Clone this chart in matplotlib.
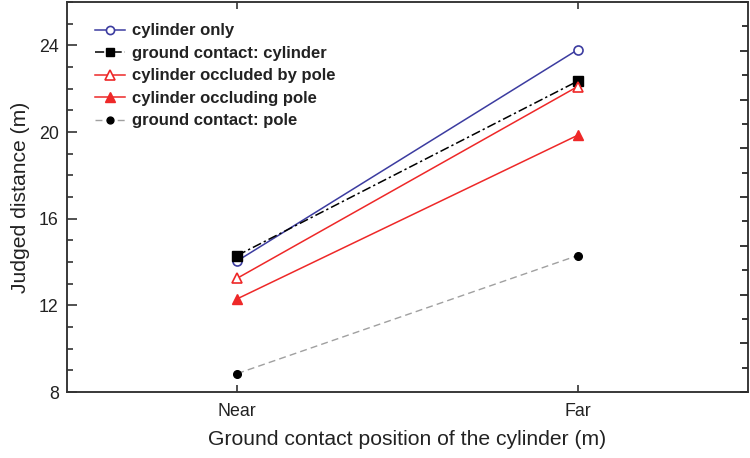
import numpy as np
import matplotlib
matplotlib.use("Agg")
from matplotlib import pyplot as plt
from matplotlib.ticker import MultipleLocator

plt.rcParams['font.family'] = ['Liberation Sans', 'DejaVu Sans']

# data
positions = ["Near", "Far"]
cylinder_only = [14.05, 23.8]
contact_cylinder = [14.3, 22.35]
occluded_by_pole = [13.25, 22.1]
occluding_pole = [12.3, 19.85]
contact_pole = [8.85, 14.3]

x = np.arange(len(positions))

fig = plt.figure(figsize=(7.5, 4.58), dpi=100)
ax = fig.add_axes([0.0893, 0.1441, 0.908, 0.8515])

ax.plot(x, cylinder_only, color="#3c3ca0", lw=1.1, marker="o", ms=6.5,
        mfc="white", mec="#3c3ca0", mew=1.2, label="cylinder only")
ax.plot(x, contact_cylinder, color="black", lw=1.1, ls=(0, (6, 2, 1.5, 2)),
        marker="s", ms=6.5, mfc="black", mec="black", label="ground contact: cylinder")
ax.plot(x, occluded_by_pole, color="#ee2828", lw=1.1, marker="^", ms=7.5,
        mfc="white", mec="#ee2828", mew=1.2, label="cylinder occluded by pole")
ax.plot(x, occluding_pole, color="#ee2828", lw=1.1, marker="^", ms=7.5,
        mfc="#ee2828", mec="#ee2828", label="cylinder occluding pole")
ax.plot(x, contact_pole, color="#a0a0a0", lw=1.0, ls=(0, (5, 3)),
        marker="o", ms=5.5, mfc="black", mec="black", label="ground contact: pole")

ax.set_xlim(-0.5, 1.5)
ax.set_ylim(8, 26)
ax.set_xticks(x)
ax.set_xticklabels(positions)
ax.yaxis.set_major_locator(MultipleLocator(4))
ax.yaxis.set_minor_locator(MultipleLocator(1))
ax.tick_params(axis="both", which="both", direction="in", labelsize=12.8,
               colors="#222222", width=1.1)
ax.tick_params(axis="y", which="major", length=7)
ax.tick_params(axis="y", which="minor", length=4.5)
ax.tick_params(axis="x", which="major", length=5, top=True, pad=8)
ax.tick_params(axis="y", pad=6)

# right side ticks are on their own division
ax2 = ax.twinx()
ax2.set_ylim(0, 16)
ax2.yaxis.set_major_locator(MultipleLocator(2))
ax2.yaxis.set_minor_locator(MultipleLocator(1))
ax2.tick_params(axis="y", which="both", direction="in", labelright=False, width=1.1)
ax2.tick_params(axis="y", which="major", length=6)
ax2.tick_params(axis="y", which="minor", length=4)

for a in (ax, ax2):
    for s in a.spines.values():
        s.set_linewidth(1.1)
        s.set_color("#333333")

ax.set_xlabel("Ground contact position of the cylinder (m)", fontsize=15.2,
              color="#222222", labelpad=7)
ax.set_ylabel("Judged distance (m)", fontsize=15.2, color="#222222", labelpad=6)

leg = ax.legend(loc="upper left", bbox_to_anchor=(0.041, 0.945), frameon=False,
                prop={"weight": "bold", "size": 12}, handlelength=1.8,
                handletextpad=0.45, labelspacing=0.45, borderaxespad=0,
                borderpad=0, markerscale=0.9)
for t in leg.get_texts():
    t.set_color("#222222")

fig.savefig("out.png", dpi=100)
